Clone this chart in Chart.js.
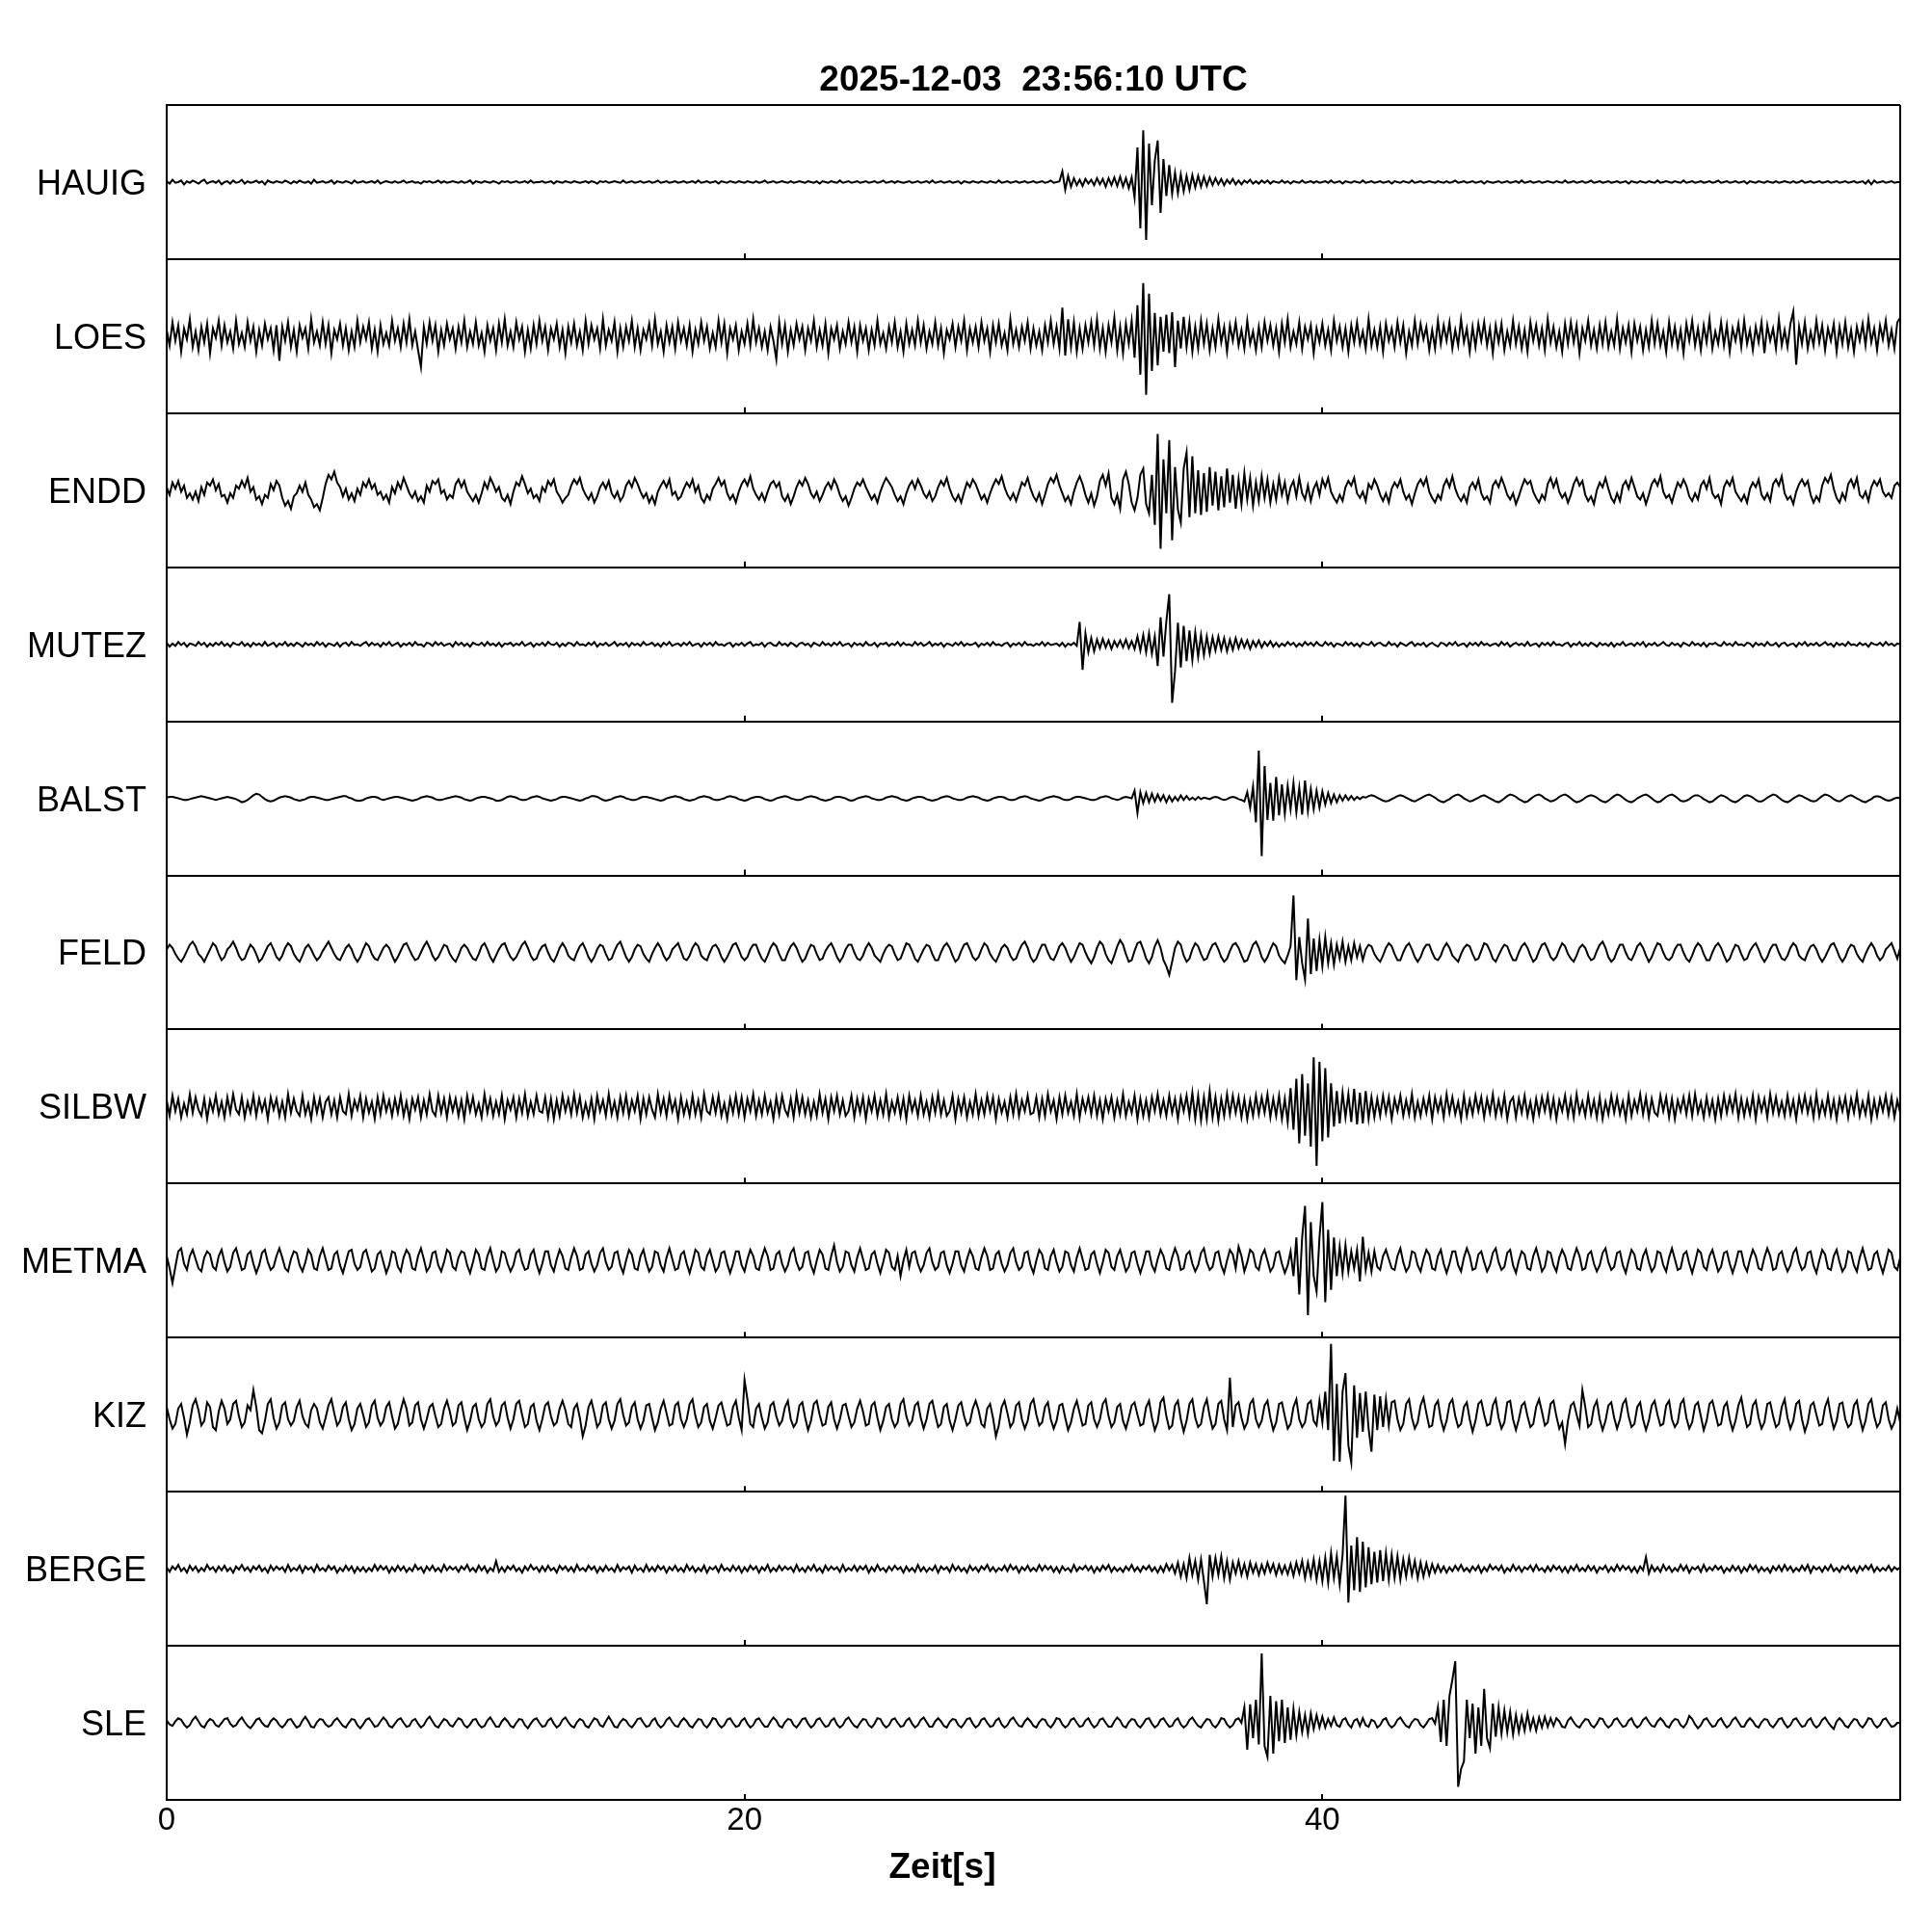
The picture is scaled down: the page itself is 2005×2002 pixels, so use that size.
<!DOCTYPE html>
<html>
<head>
<meta charset="utf-8">
<title>Seismogramm 2025-12-03 23:56:10 UTC</title>
<script src="https://cdn.jsdelivr.net/npm/chart.js@4.4.1/dist/chart.umd.min.js"></script>
<style>
  html, body { margin: 0; padding: 0; background: #fff; }
  canvas { display: block; }
</style>
</head>
<body>
<canvas id="seismo" width="2005" height="2002"></canvas>
<script>
const stations = ["HAUIG", "LOES", "ENDD", "MUTEZ", "BALST", "FELD", "SILBW", "METMA", "KIZ", "BERGE", "SLE"];
const sampleStep = 0.1; // seconds between samples
const timeTicks = [0, 20, 40];

// amplitudes in percent of half a panel, one value every 0.1 s (0 .. 60 s), one row = 2 s
const hauig = [
  1,-2,3,-1,0,2,-3,1,-1,2,0,-2,1,3,-2,0,1,-1,2,-3,
  0,1,-2,2,-1,0,3,-2,1,-1,0,2,-1,1,-3,2,0,-1,1,0,
  -1,2,0,-2,1,-1,2,0,-1,1,-2,3,-1,0,1,-1,0,2,-2,1,
  0,-1,1,0,-2,2,-1,0,1,-1,0,1,-1,2,-2,0,1,0,-1,1,
  -1,0,2,-1,0,1,-1,0,-2,1,0,1,-1,0,2,-1,1,-1,0,1,
  0,-1,1,-1,0,2,-2,1,0,-1,1,0,-1,1,0,-2,1,0,1,-1,
  0,1,-1,0,1,-1,2,-1,0,0,1,-1,0,1,-2,1,0,-1,1,0,
  -1,1,0,-1,0,1,-1,1,0,-2,1,0,1,-1,0,1,0,-1,2,-1,
  0,1,-1,0,1,-1,0,1,-1,0,2,-1,0,1,-1,0,1,-1,0,1,
  -1,0,1,-1,2,-1,0,1,-1,0,1,-2,1,0,-1,1,0,-1,1,0,
  -1,1,0,-1,1,-1,0,2,-1,0,1,-1,0,1,0,-1,1,-1,0,1,
  0,-1,1,0,-1,1,-2,1,0,-1,1,0,-1,2,-1,0,1,-1,0,1,
  -1,0,1,-1,0,1,-1,0,2,-1,0,1,-1,1,0,-1,0,1,-1,0,
  1,-1,0,1,-1,2,-1,0,1,-1,0,1,-1,0,1,-2,1,0,-1,1,
  0,-1,1,0,-1,1,0,-1,2,-1,0,1,-1,0,1,-1,0,1,-1,0,
  1,-1,0,1,-1,0,2,-1,0,1,14,-10,8,-6,5,-4,3,-5,4,-2,
  3,-4,5,-3,4,-6,5,-4,6,-5,7,-6,5,-8,6,-20,45,-60,67,-75,
  50,-30,28,54,-40,30,-18,22,-15,12,-14,10,-12,8,-10,9,-7,8,-6,7,
  -5,6,-4,5,-3,4,-4,3,-2,4,-3,2,-3,2,-1,3,-2,1,-2,2,
  -1,2,-2,1,0,-1,2,-1,1,-2,1,0,-1,2,-1,0,1,-1,1,-1,
  0,1,-1,2,-1,0,1,-2,1,0,-1,1,0,-1,2,-1,0,1,-1,0,
  1,-1,0,1,-2,1,0,-1,1,0,-1,2,-1,0,1,-1,0,1,0,-1,
  1,0,-1,1,-1,0,2,-1,0,1,-1,0,1,-1,0,1,-2,1,0,-1,
  0,1,-1,0,1,-1,0,1,-1,2,-1,0,1,-1,0,1,-1,0,1,0,
  -1,1,0,-1,2,-1,0,1,-1,0,1,-1,0,2,-1,0,1,-1,0,1,
  -1,0,1,-1,0,1,-2,1,0,-1,1,0,-1,1,0,-1,2,-1,0,1,
  0,-1,1,0,-1,2,-1,0,1,-1,0,1,-1,0,1,-1,0,2,-1,0,
  1,-1,0,1,-1,0,1,-2,1,0,-1,1,0,-1,1,0,-1,1,-1,0,
  1,0,-1,1,-1,0,2,-1,0,1,-1,0,1,-1,0,1,-1,0,1,-1,
  0,1,-1,0,1,-1,0,1,-2,2,-3,2,-1,0,1,-1,0,1,-1,0,
  0
];
const loes = [
  8,-12,18,-6,14,-20,10,-4,22,-14,6,-18,12,-8,16,-22,10,-2,20,-12,
  14,-8,6,-16,20,-10,4,-14,18,-6,12,-20,8,-12,16,-4,10,-18,14,-32,
  12,-6,18,-14,8,-20,14,-2,10,-16,22,-8,6,-12,18,-10,14,-22,8,-4,
  16,-12,10,-18,6,-14,20,-8,12,-4,18,-16,8,-20,14,-10,4,-12,20,-6,
  10,-14,16,-8,22,-12,6,-18,-40,12,-10,18,-6,14,-20,8,-12,16,-4,10,
  -16,12,-8,20,-14,6,-10,18,-12,4,-20,14,-6,10,-18,16,-8,22,-12,6,
  -14,18,-4,12,-20,8,-16,14,-10,20,-6,12,-18,10,-4,16,-14,8,-22,12,
  -8,16,-12,6,-18,20,-10,14,-4,10,-16,22,-12,8,-6,18,-20,10,-14,12,
  -6,20,-14,10,-18,8,-4,16,-12,22,-10,6,-20,14,-8,12,-16,18,-6,10,
  -12,14,-20,8,-10,18,-6,12,-16,4,-14,20,-8,16,-22,10,-4,14,-18,6,
  -10,16,-12,22,-8,10,-14,6,-18,12,-6,-30,18,-10,14,-20,8,-12,16,-4,
  12,-18,10,-6,20,-14,8,-12,16,-22,10,-4,14,-16,6,-10,18,-8,12,-20,
  14,-6,10,-18,8,-12,20,-10,4,-16,12,-8,18,-14,6,-20,16,-10,8,-12,
  20,-8,14,-16,6,-10,18,-12,10,-22,8,-4,16,-14,12,-6,20,-18,10,-8,
  12,-14,18,-6,10,-20,14,-8,16,-12,4,-18,22,-10,8,-14,12,-6,18,-16,
  10,-12,6,-18,14,-8,20,-10,12,-16,37,-25,22,-14,18,-20,10,-16,14,-8,
  18,-12,22,-16,10,-20,14,-8,24,-18,12,-22,16,-10,20,-28,40,-50,69,-76,
  55,-45,30,-38,25,-20,28,-22,31,-40,20,-16,25,-14,18,-20,12,-16,20,-10,
  16,-18,10,-14,22,-8,12,-20,14,-6,18,-12,8,-16,20,-10,6,-18,12,-14,
  18,-6,14,-12,10,-20,16,-8,22,-14,6,-10,18,-16,12,-4,14,-22,10,-8,
  16,-12,8,-18,20,-6,12,-14,10,-20,14,-8,18,-10,6,-16,22,-12,8,-14,
  12,-20,16,-6,10,-14,18,-8,14,-22,6,-12,20,-10,16,-4,12,-18,8,-16,
  20,-10,14,-6,18,-16,8,-12,22,-8,10,-20,12,-14,16,-6,18,-12,10,-22,
  14,-8,16,-18,6,-12,20,-10,12,-16,8,-20,18,-6,14,-12,10,-18,22,-8,
  12,-14,6,-20,16,-10,18,-8,14,-22,10,-6,20,-12,8,-16,14,-10,18,-14,
  6,-12,22,-16,10,-8,14,-20,16,-6,12,-18,8,-14,20,-10,16,-12,6,-20,
  18,-10,12,-14,8,-22,16,-6,20,-12,10,-18,14,-8,22,-16,6,-10,18,-12,
  14,-20,10,-6,16,-14,20,-10,8,-18,12,-8,18,-22,14,-6,10,-16,22,-12,
  8,-14,16,32,-37,12,-10,18,-16,6,-12,20,-8,14,-18,10,-6,16,-20,12,
  -10,18,-14,8,-20,12,-6,16,-12,22,-8,10,-18,14,-4,20,-12,8,-16,18,
  24
];
const endd = [
  4,-6,10,2,12,-2,6,-10,-4,-12,-2,-14,4,-6,10,6,14,0,8,-8,
  -6,-16,-4,-10,6,2,12,4,16,-2,4,-12,-8,-18,-6,-10,8,0,12,6,
  -10,-20,-14,-24,-8,-4,6,-2,10,-6,-12,-22,-18,-26,-10,8,20,14,24,10,
  4,-8,2,-12,-4,-14,2,-6,10,4,14,2,8,-6,-2,-12,-6,-16,4,-4,
  10,2,16,6,-4,-10,-2,-14,-8,-16,6,-2,12,8,14,-4,0,-12,-6,-10,
  8,14,4,12,-2,-8,-14,-6,-16,-4,10,2,16,8,-2,4,-10,-14,-6,-18,
  -2,10,6,18,8,-4,2,-10,-6,-14,4,-2,12,6,14,-2,-8,-16,-10,-6,
  6,14,8,16,2,-6,-12,-4,-16,-8,4,10,2,12,-4,-10,-2,-14,-8,6,
  12,4,16,8,-2,-10,-4,-16,-8,-18,-2,6,12,4,14,-6,-2,-12,-8,2,
  10,4,14,-2,6,-10,-16,-6,-12,2,8,16,6,12,-4,-12,-6,-16,-2,8,
  14,6,18,2,-6,-12,-4,-14,-2,8,12,4,10,-8,-14,-6,-18,-8,4,12,
  6,16,8,-4,-10,-2,-14,-6,4,10,2,14,6,-6,-14,-8,-20,-10,2,10,
  6,14,4,-4,-12,-6,-16,-2,8,16,10,4,-6,-14,-8,-18,-4,6,12,2,
  14,6,-4,-10,-2,-14,-8,4,12,6,16,2,-8,-14,-6,-16,-2,10,4,14,
  8,-2,-12,-6,-16,-4,6,14,8,18,4,-6,-12,-4,-14,-2,10,6,16,2,
  -8,-14,-4,-18,-6,8,16,10,20,6,-4,-14,-8,-18,-2,10,18,8,-6,-16,
  -4,-20,-8,12,20,6,22,-10,-18,-6,-24,14,24,8,-16,-26,-10,20,28,-18,
  -30,20,-45,73,-76,40,-30,65,-65,30,-25,-42,28,49,-35,44,-30,26,-32,22,
  -28,30,-20,24,-26,18,-22,28,-16,20,-24,14,-18,22,-12,16,-20,10,-14,18,
  -10,14,-16,8,-12,16,-6,10,-14,4,12,-8,16,-4,-12,6,-14,2,10,-6,
  14,4,16,-2,-10,-16,-6,-14,4,12,6,16,-4,-10,-2,-14,8,2,14,6,
  -6,-14,-4,-16,2,10,4,14,-2,-12,-6,-18,-4,8,14,6,16,-2,-10,-16,
  -6,-12,6,14,4,18,2,-8,-14,-6,-16,4,10,2,14,-4,-12,-8,-16,6,
  12,4,16,6,-6,-12,-4,-18,-8,4,14,8,12,-2,-10,-16,-6,-12,8,16,
  4,14,-2,-10,-4,-16,-6,8,16,6,12,-6,-14,-8,-18,0,10,4,16,2,
  -10,-16,-4,-14,6,12,2,16,4,-8,-12,-4,-18,-6,8,14,6,18,-2,-10,
  -6,-16,-2,10,4,14,6,-8,-14,-4,-12,6,12,2,16,-4,-10,-6,-18,4,
  12,6,16,-2,-8,-14,-6,-16,2,10,4,14,-6,-12,-4,-14,8,14,6,18,
  -4,-12,-8,-18,-2,8,14,6,12,-6,-16,-8,-14,6,16,10,20,2,-10,-16,
  -4,-12,8,14,4,16,-6,-10,-2,-14,4,12,6,14,-2,-8,-4,-10,6,10,
  4
];
const mutez = [
  2,-3,1,-2,3,-1,2,-3,1,0,-2,3,-1,2,-3,1,-2,2,-1,3,
  -2,1,-3,2,0,-1,3,-2,1,-3,2,-1,1,-2,3,-2,0,2,-3,1,
  -1,3,-2,1,-2,2,0,-3,2,-1,1,-2,3,-1,2,-3,1,0,-2,2,
  -3,1,2,-2,3,-1,0,-2,1,3,-2,2,-1,1,-3,2,-1,3,-2,0,
  2,-3,1,-1,2,-2,3,-1,0,-3,2,1,-2,3,-1,2,-2,0,1,-3,
  3,-1,2,-2,1,-3,2,0,-1,2,-2,3,-1,1,-2,2,-3,1,0,2,
  -2,1,-1,3,-2,0,2,-3,1,-1,2,-2,3,0,-1,2,-3,1,-2,2,
  1,-2,3,-1,0,-2,2,-1,3,-3,1,-1,2,-2,0,3,-2,1,-1,2,
  -3,2,-1,1,-2,3,-1,0,2,-2,1,-3,2,-1,3,-2,0,1,-2,2,
  -1,3,-2,0,1,-3,2,-1,2,-2,3,-1,0,-2,1,2,-3,1,-1,2,
  -2,1,3,-2,0,-1,2,-3,1,2,-1,-2,3,-1,1,-2,2,0,-3,1,
  2,-1,1,-3,2,0,-2,3,-1,1,-2,2,-1,3,-2,0,1,-3,2,-1,
  1,-2,3,-1,-1,2,-3,1,0,2,-2,1,-1,3,-2,2,-1,0,-2,3,
  -1,2,-2,0,3,-2,1,-1,2,-3,1,0,-2,2,-1,3,-2,1,-1,0,
  2,-3,1,-1,2,-2,3,-1,0,-2,1,2,-3,1,-1,2,-2,3,-1,0,
  -2,1,-1,3,-2,2,-1,0,1,-2,2,-3,1,-1,2,-2,29,-33,14,-10,
  8,-9,6,-5,7,-4,5,-6,4,-3,5,-4,6,-5,4,-6,10,-8,12,-10,
  14,-12,10,-28,35,-16,30,65,-76,-35,28,-30,24,-22,18,-20,15,-16,12,-14,
  10,-12,9,-8,10,-7,8,-9,6,-7,8,-5,6,-4,5,-6,4,-3,5,-4,
  3,-2,4,-3,2,-3,1,-2,3,-1,2,-3,1,-2,3,-1,2,-2,3,-1,
  -2,3,-1,2,-3,1,0,-2,3,-1,2,-2,1,-3,2,0,-1,3,-2,1,
  2,-1,-2,3,-1,1,-3,2,0,-2,1,3,-2,1,-1,2,-3,0,2,-1,
  -3,2,1,-2,2,-1,3,-2,0,1,-3,2,-1,2,-2,3,-1,1,-2,0,
  1,-2,3,-1,2,-3,0,2,-1,1,-2,3,-2,0,1,-3,2,-1,2,-2,
  3,-1,0,-2,1,2,-3,1,-1,3,-2,1,-2,2,0,-3,2,-1,1,-2,
  2,-3,1,-1,3,-2,0,1,-2,2,-1,3,-3,1,-1,2,-2,0,3,-1,
  -2,2,-1,1,-3,2,0,-2,3,-1,1,-2,2,-3,1,0,2,-1,-2,3,
  -1,1,-2,3,-1,0,-2,2,1,-3,2,-1,1,-2,3,-1,-1,2,-3,1,
  2,-2,0,1,-3,2,-1,3,-2,1,-1,2,-2,0,3,-1,1,-3,2,-1,
  1,-2,3,-1,0,-2,2,-1,1,-3,2,0,-1,2,-2,3,-1,1,-2,1,
  0
];
const balst = [
  1,2,2,1,0,-1,-2,-2,-1,0,1,2,3,2,1,0,-1,-2,-1,0,
  1,2,1,0,-1,-3,-5,-4,-2,1,4,6,5,2,-1,-3,-4,-3,-1,1,
  2,3,2,1,-1,-2,-3,-2,-1,1,2,2,1,0,-1,-2,-2,-1,0,1,
  2,3,3,1,0,-2,-3,-3,-2,0,1,2,2,1,-1,-2,-1,0,1,2,
  2,1,0,-1,-2,-3,-2,-1,1,2,3,2,1,-1,-2,-2,-1,0,1,2,
  3,2,1,-1,-2,-3,-2,0,1,2,2,1,0,-1,-3,-3,-2,0,2,3,
  2,1,-1,-2,-2,-1,1,2,3,2,0,-1,-2,-3,-2,-1,1,2,2,1,
  0,-1,-2,-3,-2,0,1,3,3,2,0,-2,-3,-2,-1,1,2,3,2,0,
  -1,-2,-2,-1,1,2,2,1,0,-1,-2,-3,-2,0,1,2,3,2,1,-1,
  -2,-3,-2,-1,1,2,3,2,1,-1,-2,-2,-1,0,2,3,2,1,-1,-2,
  -3,-2,0,1,2,2,1,-1,-2,-3,-2,0,1,2,3,2,0,-1,-2,-2,
  -1,1,2,3,2,1,-1,-2,-3,-2,-1,1,2,2,1,0,-2,-3,-2,0,
  1,2,3,2,0,-1,-2,-2,-1,1,2,3,2,1,-1,-2,-3,-2,0,1,
  2,2,1,-1,-2,-3,-2,-1,1,2,3,2,0,-1,-2,-2,-1,1,2,3,
  2,1,-1,-2,-3,-2,0,1,2,2,1,-1,-2,-2,-1,1,2,3,2,0,
  -1,-2,-3,-2,0,1,2,3,2,1,-1,-2,-2,-1,1,2,2,1,0,-1,
  -2,-2,-1,1,2,3,2,0,-1,-2,-1,1,2,1,0,10,-19,8,-6,7,
  -5,6,-4,5,-3,4,-5,3,-4,2,-3,4,-2,3,-2,1,-2,2,-1,1,
  0,-1,1,2,1,-1,-2,-1,1,2,1,-1,-2,-4,8,-12,15,-31,62,-75,
  42,-28,20,-29,28,-22,18,-20,16,-14,20,-18,14,-21,23,-16,12,-14,10,-12,
  9,-8,7,-6,5,-5,4,-3,4,-2,3,-2,2,-1,2,1,3,4,3,1,
  -1,-3,-4,-3,-1,1,3,4,3,1,-1,-3,-4,-2,0,2,4,5,3,1,
  -2,-4,-5,-3,-1,2,4,5,3,0,-2,-4,-3,-1,1,3,4,2,0,-2,
  -4,-5,-3,0,3,5,4,2,-1,-3,-5,-4,-1,2,4,5,3,0,-2,-4,
  -3,-1,2,4,5,3,0,-3,-5,-4,-2,1,3,4,3,1,-2,-4,-5,-3,
  0,3,5,4,1,-2,-4,-5,-3,0,2,4,5,3,0,-3,-5,-4,-1,2,
  4,5,3,0,-3,-4,-3,-1,2,4,4,2,-1,-3,-5,-4,-1,2,4,3,
  1,-2,-4,-5,-3,0,3,4,3,1,-2,-4,-4,-2,1,3,5,4,1,-2,
  -4,-5,-3,0,2,4,3,1,-1,-3,-4,-3,0,3,5,4,2,-1,-3,-4,
  -2,1,3,4,2,0,-2,-4,-5,-3,-1,2,3,2,0,-2,-3,-2,0,1,
  0
];
const feld = [
  4,10,6,-2,-8,-12,-6,2,10,14,8,-2,-6,-12,-4,4,12,8,-2,-10,
  -6,4,8,14,6,-4,-10,-8,2,10,6,-2,-12,-8,0,8,12,4,-6,-10,
  -4,6,12,8,-2,-8,-12,-4,6,10,4,-4,-10,-6,2,8,14,6,-2,-8,
  -10,-2,6,10,4,-6,-12,-6,4,12,8,-2,-8,-10,-2,6,10,6,-4,-12,
  -6,2,10,12,4,-4,-10,-8,0,8,14,6,-4,-10,-6,2,10,8,-2,-8,
  -12,-4,6,10,6,-2,-8,-10,-2,8,12,4,-6,-12,-4,4,10,12,2,-6,
  -10,-6,2,10,14,6,-4,-10,-8,2,8,10,0,-8,-12,-4,6,12,6,-4,
  -8,-10,0,8,12,4,-6,-12,-6,4,10,8,-2,-10,-8,2,10,14,4,-6,
  -12,-6,4,10,8,-2,-8,-12,-2,6,12,6,-4,-10,-6,4,8,12,2,-8,
  -10,-4,6,12,8,-4,-8,-10,0,8,10,4,-6,-12,-6,2,10,12,4,-6,
  -10,-6,4,10,10,0,-8,-12,-4,6,12,8,-2,-10,-10,0,8,12,6,-4,
  -12,-8,2,10,8,-2,-10,-8,2,8,12,4,-6,-12,-6,4,10,10,0,-8,
  -10,-4,6,12,6,-4,-8,-12,-2,6,10,8,-2,-10,-8,2,12,10,2,-8,
  -12,-4,4,10,8,-2,-10,-10,0,8,12,6,-4,-12,-8,2,10,12,4,-6,
  -10,-6,4,12,8,-2,-8,-12,-4,6,10,6,-4,-10,-8,2,10,14,6,-6,
  -12,-8,2,10,10,0,-8,-10,-2,8,12,6,-4,-12,-6,4,12,10,0,-8,
  -14,-6,6,14,10,-2,-10,-14,-4,8,16,10,-2,-12,-10,2,12,14,4,-8,
  -14,-6,8,16,6,-10,-18,-29,-12,6,14,10,-4,-12,-8,4,12,8,-2,-10,
  -8,2,10,12,4,-6,-12,-8,2,10,12,6,-4,-12,-10,0,10,14,6,-6,
  -12,-6,4,12,8,-4,-10,-14,-4,8,74,-36,20,-14,-35,44,-28,18,-24,16,
  -18,20,-14,12,-16,10,-8,14,-12,8,-10,12,-6,8,-10,4,10,8,-2,-8,
  -12,-4,6,12,8,-2,-10,-10,0,8,12,4,-6,-12,-6,4,10,10,0,-8,
  -10,-4,6,12,6,-4,-8,-12,-2,6,10,8,-2,-10,-8,2,12,10,2,-8,
  -12,-4,4,10,8,-2,-10,-10,0,8,12,6,-4,-12,-8,2,10,12,4,-6,
  -10,-6,4,12,8,-2,-8,-12,-4,6,10,6,-4,-10,-8,2,10,14,6,-6,
  -12,-8,2,10,10,0,-8,-10,-2,8,12,6,-4,-12,-6,4,12,10,0,-8,
  -10,-6,4,10,10,0,-8,-12,-4,6,12,8,-2,-10,-10,0,8,12,6,-4,
  -12,-8,2,10,8,-2,-10,-8,2,8,12,4,-6,-12,-6,4,10,10,0,-8,
  -10,-4,6,12,8,-4,-8,-10,0,8,10,4,-6,-12,-6,2,10,12,4,-6,
  -12,-6,4,10,8,-2,-8,-12,-2,6,12,6,-4,-10,-6,4,8,12,2,-8,
  6
];
const silbw = [
  8,-12,14,-6,10,-14,4,-10,16,-8,12,-4,-12,10,-16,8,-6,14,-10,6,
  -14,12,-8,16,-4,-10,12,-14,6,-8,14,-12,10,-6,8,-16,12,-4,10,-12,
  6,-14,16,-8,10,-6,-12,14,-10,4,-16,12,-8,10,-14,6,12,-10,8,-14,
  12,-6,-10,16,-12,8,-4,14,-14,10,-8,6,-16,12,-10,14,-6,8,-12,10,
  -8,14,-12,6,-16,10,-4,12,-14,8,-10,16,-6,-12,14,-8,10,-14,12,-6,
  10,-12,8,-16,14,-6,12,-10,4,-14,16,-8,10,-12,6,-10,14,-16,8,-4,
  12,-14,10,-8,16,-12,6,-10,14,-6,-8,12,-14,10,-16,8,-12,14,-6,10,
  -10,16,-8,12,-14,4,-12,10,-16,14,-6,8,-12,16,-10,6,-14,12,-8,14,
  -12,8,-6,14,-16,10,-10,12,-4,-14,16,-8,10,-12,14,-6,8,-16,12,-10,
  6,-12,14,-10,8,-14,16,-6,-10,12,-8,14,-12,4,-16,10,-8,14,-10,12,
  -14,10,-6,16,-12,8,-10,14,-8,6,-16,12,-10,14,-4,-12,10,-14,16,-8,
  12,-10,8,-14,6,-12,16,-8,10,-16,12,-6,14,-10,8,-12,-6,14,-14,10,
  -8,12,-16,10,-6,14,-12,8,-10,16,-14,6,-8,12,-12,10,-16,14,-6,8,
  -12,14,-10,6,-14,12,-8,16,-10,8,-12,-6,14,-16,10,-8,12,-14,6,-10,
  16,-12,8,-10,14,-6,12,-16,10,-8,6,-14,12,-10,16,-12,8,-6,14,-10,
  -8,12,-14,10,-12,16,-6,8,-16,12,-10,14,-8,6,-12,16,-14,10,-6,12,
  -10,14,-12,8,-16,10,-6,12,-14,8,-10,16,-12,6,-8,14,-16,10,-12,8,
  -14,12,-6,16,-10,8,-12,14,-8,10,-16,12,-6,14,-12,18,-16,14,-18,12,
  -16,20,-14,12,-18,10,-12,16,-10,14,-8,12,-14,10,-16,8,-12,14,-10,12,
  -8,16,-14,10,-12,14,-16,10,-20,24,-30,36,-48,42,-38,30,-52,64,-77,58,
  -45,50,-40,30,-26,20,-22,18,-14,16,-20,23,-23,18,-22,20,-16,12,-14,10,
  -12,14,-8,12,-16,10,-6,14,-12,8,-10,16,-14,6,-12,10,-8,14,-16,12,
  -6,10,-14,16,-8,12,-10,6,-16,14,-12,8,-10,14,-6,12,-14,10,-8,16,
  -12,8,-10,14,-16,6,12,-14,10,-8,14,-12,6,-16,10,-10,12,-6,14,-12,
  10,-16,8,-6,14,-12,10,-14,16,-8,6,-12,14,-10,8,-14,12,-16,6,-10,
  14,-8,12,-10,6,-16,14,-12,8,-6,16,-10,12,-14,10,-8,-12,14,-6,12,
  -14,10,-16,8,-6,12,-10,14,-12,16,-8,6,-14,12,-10,8,-16,10,-12,14,
  -8,12,-6,16,-14,10,-12,8,-10,14,-16,12,-6,10,-14,16,-8,12,-10,6,
  -12,14,-10,8,-16,12,-6,14,-8,10,-14,16,-12,6,-10,14,-12,8,-16,10,
  -6,12,-14,10,-8,16,-12,6,-10,14,-16,8,-12,10,-6,14,-10,12,-14,8,
  -8
];
const metma = [
  6,-10,-29,-8,12,16,-4,-12,6,14,2,-10,-14,4,12,8,-8,-12,6,14,
  -2,-14,-8,10,16,2,-12,-10,8,12,-4,-16,-6,10,14,-2,-12,-8,6,16,
  4,-10,-14,2,12,10,-6,-14,-2,14,8,-10,-12,6,16,2,-12,-10,8,12,
  -6,-16,-2,12,14,-4,-12,-8,10,14,0,-14,-10,8,12,-2,-16,-6,12,10,
  -8,-14,4,14,8,-10,-12,6,16,2,-14,-8,10,12,-6,-14,-2,14,10,-8,
  -12,4,12,10,-6,-16,-2,14,8,-10,-12,6,16,0,-14,-8,12,10,-4,-14,
  -6,10,14,-2,-12,-10,8,14,-4,-16,-4,12,12,-6,-14,2,14,6,-10,-12,
  4,16,6,-12,-10,8,12,-4,-14,-6,10,16,-2,-12,-8,10,12,-6,-16,0,
  14,8,-10,-12,6,14,-2,-14,-8,12,10,-6,-14,4,16,2,-12,-10,8,12,
  -4,-16,-2,14,10,-8,-12,6,14,0,-14,-8,10,12,-4,-16,-4,12,12,-6,
  -14,2,14,6,-10,-12,4,16,6,-12,-10,8,12,-4,-14,-6,10,16,-2,-12,
  -8,10,12,-6,-16,0,14,8,-10,-12,6,20,-2,-14,-8,12,10,-6,-14,4,
  16,2,-12,-10,8,12,-4,-16,-2,14,10,-8,-12,6,-20,0,14,-8,10,12,
  -4,-14,-6,10,16,-2,-12,-8,10,12,-6,-16,-4,12,12,-6,-14,2,14,6,
  -10,-12,4,16,6,-12,-10,8,12,-4,-14,-6,10,16,-2,-12,-8,10,12,-6,
  -16,0,14,8,-10,-12,6,14,-2,-14,-8,12,10,-6,-14,4,16,2,-12,-10,
  8,12,-4,-16,-2,14,10,-8,-12,6,14,0,-14,-8,10,12,-4,-16,-4,12,
  12,-6,-14,2,14,6,-10,-12,4,16,6,-12,-10,8,12,-4,-14,-6,10,16,
  -2,-12,-8,10,12,-6,-16,0,14,8,-10,18,6,-14,-2,14,10,-8,-12,6,
  14,0,-14,-8,10,12,-4,-16,-6,12,-20,30,-44,30,71,-71,50,-20,-40,30,
  76,-54,40,-38,30,-20,18,-16,20,-14,12,-10,14,-27,31,-12,10,-14,12,-8,
  -12,6,14,2,-10,-12,6,16,-2,-14,-8,12,10,-6,-14,2,14,8,-10,-12,
  6,14,-4,-16,-4,12,12,-6,-14,4,16,6,-12,-10,8,12,-2,-14,-6,10,
  16,-2,-12,-8,10,14,-6,-16,0,12,8,-10,-12,6,16,2,-14,-8,12,10,
  -6,-14,4,14,6,-10,-12,4,16,6,-12,-10,8,12,-4,-14,-6,10,16,-2,
  -12,-8,10,12,-6,-16,0,14,8,-10,-12,6,14,-2,-14,-8,12,10,-6,-14,
  4,16,2,-12,-10,8,12,-4,-16,-2,14,10,-8,-12,6,14,0,-14,-8,10,
  12,-4,-16,-4,12,12,-6,-14,2,14,6,-10,-12,4,16,6,-12,-10,8,12,
  -4,-14,-6,10,16,-2,-12,-8,10,12,-6,-16,0,14,8,-10,-12,6,14,-2,
  -14,-8,12,10,-6,-14,4,16,2,-12,-10,8,12,-4,-16,-2,14,10,-8,-12,
  4
];
const kiz = [
  10,-6,-18,-12,8,14,-4,-26,-10,12,20,6,-14,-8,16,10,-16,-20,4,18,
  8,-12,-6,14,18,-2,-16,-10,12,6,32,10,-20,-24,-8,14,20,-4,-18,-10,
  12,16,-6,-14,-8,10,18,-2,-12,-16,6,14,8,-10,-18,-4,12,20,2,-14,
  -8,10,16,-6,-20,-12,8,14,0,-16,-10,12,18,-4,-14,-8,10,16,-2,-18,
  -12,6,20,8,-14,-10,12,16,-6,-18,-6,10,14,-2,-16,-12,8,18,4,-14,
  -10,12,16,-4,-20,-8,10,14,-6,-16,-10,14,20,-2,-14,-8,12,16,-4,-18,
  -6,14,18,0,-16,-12,10,14,-8,-20,-6,12,16,-2,-14,-10,8,18,6,-12,
  -16,8,14,-4,-28,-14,10,18,2,-16,-10,12,16,-6,-18,-8,14,20,0,-14,
  -10,10,16,-6,-18,-8,12,14,-4,-20,-10,8,18,2,-14,-12,12,16,-6,-16,
  -6,14,20,-2,-16,-10,10,14,-8,-18,-4,12,16,0,-14,-12,10,18,-4,-20,
  45,20,-12,-16,8,14,-4,-18,-10,12,16,-2,-14,-8,10,18,-6,-16,-10,12,
  16,-4,-20,-8,14,18,0,-14,-12,10,16,-6,-18,-6,12,14,-2,-16,-10,8,
  18,4,-14,-12,12,16,-4,-20,-8,10,14,-6,-16,-10,14,20,-2,-14,-8,12,
  16,-4,-18,-6,14,18,0,-16,-12,10,14,-8,-20,-6,12,16,-2,-14,-10,8,
  18,6,-12,-16,8,14,-4,-28,-14,10,18,2,-16,-10,12,16,-6,-18,-8,14,
  20,0,-14,-10,10,16,-6,-18,-8,12,14,-4,-20,-10,8,18,2,-14,-12,12,
  16,-6,-16,-6,14,20,-2,-16,-10,10,14,-8,-18,-4,12,16,0,-14,-12,10,
  18,-4,-20,-10,16,22,-2,-18,-14,12,18,-6,-22,-8,14,20,-4,-16,-12,10,
  20,-2,-18,-12,14,18,-6,-20,48,-16,12,16,-4,-18,-10,14,20,-6,-16,-8,
  12,18,-4,-20,-10,14,16,-2,-18,-12,10,20,-6,-16,-10,14,18,-8,-14,18,
  -10,30,-20,92,-60,40,-61,30,54,-40,-62,38,-30,28,-22,30,-18,-48,26,-20,
  24,-16,20,-14,16,18,-6,-20,-12,14,20,-4,-18,-10,12,22,2,-16,-14,12,
  18,-6,-20,-8,14,20,-2,-16,-12,10,16,-6,-22,-8,14,18,0,-14,-12,12,
  20,-4,-18,-10,16,18,-6,-20,-6,12,16,-2,-16,-12,10,20,4,-14,-10,14,
  18,-2,-18,-10,-38,-8,12,16,0,-14,32,10,-16,-12,10,18,-6,-20,-8,12,
  16,-4,-18,-6,14,20,-2,-16,-12,10,16,-6,-20,-8,12,18,0,-14,-12,12,
  18,-6,-16,-10,14,20,-4,-18,-10,12,16,-2,-20,-8,14,18,2,-14,-12,10,
  16,-6,-20,-8,12,22,0,-16,-12,12,18,-4,-18,-10,14,16,-2,-16,-12,10,
  20,-4,-18,-8,14,18,-6,-22,-10,12,16,0,-14,-12,10,20,-2,-18,-8,14,
  16,-6,-16,-12,12,18,-4,-20,-8,14,20,-2,-16,-10,12,16,-6,-18,-10,8,
  -10
];
const berge = [
  2,-4,3,-1,5,-3,1,-5,4,-2,3,-4,1,-3,5,-1,2,-4,3,-2,
  4,-3,1,-5,3,-1,5,-2,2,-4,3,-1,4,-3,1,-5,4,-2,3,-1,
  2,-4,5,-3,1,-2,4,-5,3,-1,2,-4,5,-2,1,-3,4,-1,3,-5,
  1,-3,4,-2,3,-5,2,-3,2,-4,1,-3,5,-2,4,-1,3,-5,2,-3,
  4,-2,3,-4,1,-3,5,-1,2,-5,3,-2,4,-3,1,-4,5,-2,3,-1,
  2,-4,3,-1,5,-3,1,-4,4,-2,3,-5,1,-3,10,-4,2,-4,3,-1,
  4,-3,1,-5,3,-2,5,-1,2,-4,3,-3,4,-2,1,-5,4,-1,3,-3,
  2,-4,5,-2,1,-3,4,-1,3,-5,2,-3,4,-2,1,-4,5,-3,2,-1,
  3,-5,4,-2,1,-4,5,-3,2,-3,4,-1,3,-5,2,-2,4,-3,1,-4,
  5,-2,3,-4,1,-3,4,-5,2,-1,3,-4,5,-2,1,-3,4,-2,3,-5,
  2,-3,4,-1,3,-5,2,-2,5,-4,1,-3,4,-2,3,-1,2,-4,5,-3,
  1,-4,3,-2,5,-3,1,-5,4,-2,3,-1,2,-4,5,-3,1,-2,4,-3,
  3,-1,4,-5,2,-3,5,-2,1,-4,3,-2,4,-1,2,-5,3,-3,1,-4,
  5,-3,2,-4,1,-2,4,-5,3,-1,2,-4,5,-2,3,-3,1,-5,4,-2,
  2,-4,3,-1,5,-3,2,-4,1,-2,4,-3,5,-1,3,-5,2,-2,4,-3,
  1,-3,5,-2,4,-1,3,-4,2,-5,3,-2,1,-4,5,-3,2,-1,4,-2,
  3,-5,2,-3,4,-1,5,-4,2,-3,1,-4,3,-2,5,-3,2,-4,3,-1,
  4,-3,2,-5,3,-4,6,-2,5,-6,8,-10,6,-12,14,-8,10,-14,12,-16,
  -46,18,-10,14,-8,16,-12,10,-14,8,-6,10,-8,6,-10,8,-5,6,-8,5,
  -6,8,-4,6,-8,5,-6,4,-7,6,-9,8,-6,10,-12,8,-10,12,-14,10,
  -16,14,-18,20,-12,16,-20,18,95,-44,30,-28,41,-30,35,-24,28,-20,22,-18,
  24,-16,20,-14,18,-12,16,-14,12,-10,14,-8,10,-12,8,-10,7,-8,6,-5,
  5,-4,3,-5,2,-3,4,-2,5,-3,1,-4,3,-2,4,-5,2,-3,5,-1,
  3,-2,4,-5,1,-3,5,-2,3,-4,2,-1,4,-3,5,-2,1,-4,3,-3,
  4,-1,3,-4,2,-5,3,-2,5,-3,1,-3,4,-2,3,-5,2,-1,4,-4,
  2,-3,5,-2,4,-1,3,-4,2,-5,3,-2,15,-6,4,-3,2,-4,5,-2,
  3,-4,1,-3,5,-2,4,-5,2,-1,3,-4,5,-3,2,-2,4,-1,3,-5,
  1,-3,4,-2,3,-5,2,-3,5,-1,4,-4,2,-3,1,-5,3,-2,4,-3,
  5,-2,3,-4,1,-3,4,-2,5,-5,3,-1,2,-4,3,-2,5,-3,1,-4,
  3,-1,4,-3,2,-5,3,-2,4,-1,5,-4,2,-3,1,-2,4,-3,2,-1,
  2
];
const sle = [
  3,-2,-4,2,6,4,-2,-6,-3,4,8,2,-4,-6,1,5,3,-3,-5,0,
  5,6,-1,-5,-3,3,7,1,-4,-7,-2,4,6,0,-4,-5,2,6,3,-3,
  -6,-2,4,5,-1,-6,-4,3,8,2,-5,-6,1,5,4,-2,-5,-3,3,6,
  1,-4,-6,0,5,4,-3,-7,-2,4,6,1,-5,-4,2,7,3,-4,-6,-1,
  4,6,0,-5,-4,3,5,-1,-6,-3,4,8,2,-4,-6,0,5,3,-3,-5,
  1,6,4,-3,-6,-2,4,5,-2,-6,-4,3,7,1,-5,-5,2,6,2,-4,
  -6,0,5,4,-3,-7,-1,4,6,0,-5,-4,3,6,-1,-6,-3,4,7,1,
  -4,-6,1,5,3,-4,-6,0,6,4,-3,-5,2,8,2,-5,-6,1,5,3,
  -3,-6,-1,5,6,0,-5,-4,3,6,-2,-6,-3,4,7,1,-4,-5,2,6,
  2,-4,-6,0,5,4,-3,-6,-1,6,5,-2,-6,-3,4,6,0,-5,-4,3,
  6,-1,-6,-3,4,6,0,-5,-5,2,7,3,-4,-6,1,5,4,-3,-6,-1,
  5,6,-1,-6,-3,4,6,0,-5,-4,3,6,-2,-6,-3,4,7,1,-4,-6,
  0,5,4,-3,-6,-1,6,5,-2,-6,-3,4,6,0,-5,-4,3,6,-1,-6,
  -3,4,7,1,-5,-5,2,6,2,-4,-6,1,5,4,-3,-6,-1,5,6,-1,
  -6,-3,4,6,0,-5,-4,3,6,-2,-6,-3,4,7,1,-4,-5,2,6,2,
  -4,-6,1,5,4,-3,-6,-1,6,5,-2,-6,-3,4,6,0,-5,-4,3,6,
  -1,-6,-3,4,6,0,-5,-5,2,7,3,-4,-6,1,5,4,-3,-6,-1,5,
  6,-1,-6,-3,4,6,0,-5,-4,3,6,-2,-6,-3,4,7,1,-4,-6,0,
  5,4,-3,-6,-1,6,5,-2,-6,-3,4,6,0,20,-35,24,-20,30,-28,90,
  -30,-44,35,-40,28,-24,30,-26,20,-22,18,-16,14,-12,10,-14,12,-8,10,-6,
  8,-6,5,-4,7,-3,-5,4,6,-2,-6,3,5,-4,6,-3,-5,4,2,-6,
  -3,4,6,-2,-6,-3,4,7,1,-4,-6,1,5,4,-3,-6,-1,5,6,-1,
  20,-25,30,-30,35,56,80,-83,-60,-50,30,-20,25,-40,20,-30,44,-20,-33,25,
  -18,20,-14,16,-12,14,-15,10,-12,8,-10,12,-8,6,-10,7,-6,8,-5,6,
  -4,6,2,-5,-6,3,7,1,-4,-6,0,5,4,-3,-6,-1,6,5,-2,-6,
  -3,4,6,0,-5,-4,3,6,-2,-6,-3,4,7,1,-4,-5,2,6,2,-4,
  -6,1,5,4,-3,-6,-1,9,5,-2,-7,-3,4,6,0,-5,-4,3,6,-1,
  -6,-3,4,7,1,-5,-5,2,6,2,-4,-6,1,5,4,-3,-6,-1,5,6,
  -1,-6,-3,4,6,0,-5,-4,3,6,-2,-6,-3,4,7,1,-4,-8,2,6,
  2,-4,-6,0,5,4,-3,-6,-1,6,5,-2,-6,-3,4,6,0,-5,-4,0,
  0
];

const traces = [hauig, loes, endd, mutez, balst, feld, silbw, metma, kiz, berge, sle];

const FONT = "'Liberation Sans', Arial, Helvetica, sans-serif";
Chart.defaults.font.family = FONT;
Chart.defaults.color = "#000";

const panelCount = stations.length;

// each station gets one unit of the y axis, top panel first
const datasets = traces.map((amps, k) => {
  const center = panelCount - k - 0.5;
  return {
    label: stations[k],
    data: amps.map((a, i) => ({x: i * sampleStep, y: center + a / 200})),
    borderColor: "#000",
    borderWidth: 2,
    pointRadius: 0,
    tension: 0,
    fill: false,
  };
});

// little inward ticks at the bottom of every panel + x axis caption
const panelDecor = {
  id: "panelDecor",
  afterDraw(chart) {
    const {ctx, scales: {x, y}} = chart;
    ctx.save();
    ctx.strokeStyle = "#000";
    ctx.lineWidth = 2;
    for (let k = 0; k < panelCount; k++) {
      const py = y.getPixelForValue(k);
      for (const t of timeTicks.filter(t => t > 0)) {
        const px = Math.round(x.getPixelForValue(t));
        ctx.beginPath();
        ctx.moveTo(px, py);
        ctx.lineTo(px, py - 6);
        ctx.stroke();
      }
    }
    ctx.fillStyle = "#000";
    ctx.font = "bold 37px " + FONT;
    ctx.textAlign = "center";
    ctx.textBaseline = "alphabetic";
    ctx.fillText("Zeit[s]", 978, 1949);
    ctx.restore();
  }
};

new Chart(document.getElementById("seismo"), {
  type: "line",
  data: {datasets},
  plugins: [panelDecor],
  options: {
    responsive: false,
    animation: false,
    devicePixelRatio: 1,
    events: [],
    layout: {padding: {top: 0, right: 33, bottom: 0, left: 0}},
    plugins: {
      legend: {display: false},
      tooltip: {enabled: false},
      title: {
        display: true,
        fullSize: false,
        text: "2025-12-03  23:56:10 UTC",
        color: "#000",
        font: {size: 37, weight: "bold"},
        padding: {top: 62, bottom: 2.6},
      },
    },
    scales: {
      x: {
        type: "linear",
        min: 0,
        max: 60,
        afterFit: (scale) => { scale.height = 134; },
        ticks: {
          stepSize: 20,
          autoSkip: false,
          maxRotation: 0,
          padding: 2,
          color: "#000",
          font: {size: 33},
          callback: (v) => timeTicks.includes(v) ? String(v) : "",
        },
        grid: {
          drawTicks: false,
          lineWidth: 2,
          color: (ctx) => ctx.tick && ctx.tick.value === 60 ? "#000" : "rgba(0,0,0,0)",
        },
        border: {display: true, color: "#000", width: 2},
      },
      y: {
        type: "linear",
        min: 0,
        max: panelCount,
        afterFit: (scale) => { scale.width = 173; },
        afterBuildTicks: (scale) => {
          scale.ticks = Array.from({length: panelCount * 2 + 1}, (_, i) => ({value: i / 2}));
        },
        ticks: {
          autoSkip: false,
          padding: 21,
          labelOffset: 3,
          color: "#000",
          font: {size: 36},
          callback: (v) => Number.isInteger(v) ? "" : stations[Math.round(panelCount - 0.5 - v)],
        },
        grid: {
          drawTicks: false,
          lineWidth: 2,
          color: (ctx) => ctx.tick && Number.isInteger(ctx.tick.value) ? "#000" : "rgba(0,0,0,0)",
        },
        border: {display: true, color: "#000", width: 2},
      },
    },
  },
});
</script>
</body>
</html>
